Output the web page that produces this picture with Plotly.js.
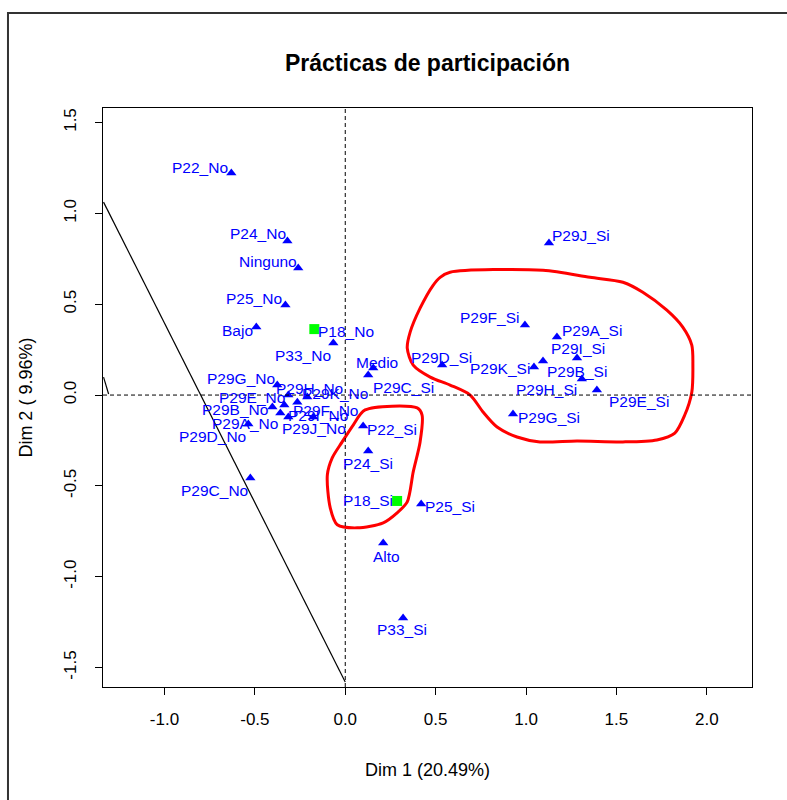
<!DOCTYPE html>
<html>
<head>
<meta charset="utf-8">
<script src="https://cdn.plot.ly/plotly-3.0.1.min.js"></script>
<style>html,body{margin:0;padding:0;background:#fff;}#chart{width:787px;height:800px;}</style>
</head>
<body>
<div id="chart"></div>
<script>
// Active categories (blue triangles)
const labels = ["P22_No","P24_No","Ninguno","P25_No","Bajo","P33_No","Medio","P29C_Si","P29D_Si","P29F_Si",
  "P29A_Si","P29I_Si","P29K_Si","P29H_Si","P29B_Si","P29E_Si","P29G_Si","P29J_Si",
  "P29G_No","P29H_No","P29K_No","P29E_No","P29B_No","P29F_No","P29I_No","P29J_No","P29A_No","P29D_No","P29C_No",
  "P22_Si","P24_Si","P25_Si","Alto","P33_Si"];
const dim1 = [-0.630,-0.320,-0.260,-0.331,-0.492,-0.066,0.155,0.127,0.536,0.994,
  1.171,1.282,1.044,1.309,1.094,1.392,0.928,1.127,
  -0.376,-0.315,-0.210,-0.265,-0.403,-0.337,-0.177,-0.315,-0.359,-0.536,-0.525,
  0.099,0.127,0.420,0.210,0.320];
const dim2 = [1.222,0.848,0.699,0.495,0.374,0.286,0.149,0.110,0.165,0.385,
  0.319,0.204,0.154,0.088,0.187,0.028,-0.105,0.837,
  0.055,0.000,-0.011,-0.039,-0.066,-0.055,-0.121,-0.121,-0.099,-0.160,-0.457,
  -0.171,-0.308,-0.600,-0.815,-1.227];

// Supplementary categories (green squares)
const suppLabels = ["P18_No","P18_Si"];
const suppDim1 = [-0.171,0.287];
const suppDim2 = [0.363,-0.583];

// Label placement offsets in pixels (dx right, dy down)
const labelOffsets = [[-31,-6],[-29,-7],[-30,-7],[-31,-7],[-19,3],[-30,12],[4,-5],[35,12],[-1,-8],[-35,-8],
  [35,-7],[1,-9],[-34,1],[-35,10],[34,10],[42,12],[36,3],[32,-7],
  [-36,-7],[21,-7],[28,-4],[-45,-5],[-37,2],[41,5],[5,-2],[26,11],[-35,10],[-36,12],[-36,12],
  [29,3],[0,12],[29,2],[3,13],[-1,12]];
const suppOffsets = [[32,2],[-29,0]];

// Hand-drawn red outlines (vertices)
const groupA_x = [0.580,1.094,1.354,1.536,1.646,1.779,1.867,1.917,1.923,1.917,1.878,1.823,1.724,1.536,1.282,1.077,0.950,0.840,0.762,0.691,0.580,0.470,0.376,0.343,0.359,0.414,0.486,0.525,0.580];
const groupA_y = [0.676,0.687,0.648,0.621,0.566,0.467,0.374,0.275,0.165,0.016,-0.110,-0.209,-0.247,-0.258,-0.253,-0.258,-0.231,-0.176,-0.093,0.000,0.055,0.099,0.165,0.258,0.346,0.478,0.604,0.648,0.676];
const groupB_x = [0.110,0.398,0.425,0.414,0.376,0.343,0.287,0.210,0.066,-0.044,-0.083,-0.099,-0.072,-0.017,0.044,0.110];
const groupB_y = [-0.082,-0.071,-0.110,-0.258,-0.423,-0.588,-0.648,-0.703,-0.731,-0.714,-0.621,-0.440,-0.346,-0.258,-0.165,-0.082];

// Straight black lines (endpoints)
const lineMain = {x0:-1.337, y0:1.062, x1:0.0, y1:-1.580};
const lineShort = {x0:-1.337, y0:0.099, x1:-1.309, y1:0.006};

const FONT = '"Liberation Sans", Arial, Helvetica, sans-serif';
const BLUE = '#0000FF';
const LABEL_SIZE = 15.5;
const AXIS_SIZE = 17;
const AXIS_TITLE_SIZE = 18;

const traces = [
  {x: groupA_x, y: groupA_y, mode:'lines', line:{color:'#FF0000', width:3, shape:'spline', smoothing:0.8}, hoverinfo:'skip'},
  {x: groupB_x, y: groupB_y, mode:'lines', line:{color:'#FF0000', width:3, shape:'spline', smoothing:0.8}, hoverinfo:'skip'},
  {x: dim1, y: dim2, text: labels, mode:'markers', marker:{symbol:'triangle-up', size:9, color:BLUE}},
  {x: suppDim1, y: suppDim2, text: suppLabels, mode:'markers', marker:{symbol:'square', size:10, color:'#00FF00'}}
];

const annotations = [];
labels.forEach((t,i)=>{
  annotations.push({x:dim1[i], y:dim2[i], text:t, showarrow:false, xshift:labelOffsets[i][0], yshift:-labelOffsets[i][1],
    font:{family:FONT, size:LABEL_SIZE, color:BLUE}});
});
suppLabels.forEach((t,i)=>{
  annotations.push({x:suppDim1[i], y:suppDim2[i], text:t, showarrow:false, xshift:suppOffsets[i][0], yshift:-suppOffsets[i][1],
    font:{family:FONT, size:LABEL_SIZE, color:BLUE}});
});
annotations.push({xref:'paper', yref:'paper', x:0.5, y:-0.1434, text:'Dim 1 (20.49%)', showarrow:false,
  font:{family:FONT, size:AXIS_TITLE_SIZE, color:'#000'}, yanchor:'middle'});
annotations.push({xref:'paper', yref:'paper', x:-0.1200, y:0.5, text:'Dim 2 ( 9.96%)', showarrow:false, textangle:-90,
  font:{family:FONT, size:AXIS_TITLE_SIZE, color:'#000'}, xanchor:'center', yanchor:'middle'});

const shapes = [
  {type:'line', xref:'x', yref:'paper', x0:0, x1:0, y0:0, y1:1, line:{color:'#000', width:1, dash:'4px,3px'}},
  {type:'line', xref:'paper', yref:'y', x0:0, x1:1, y0:0, y1:0, line:{color:'#000', width:1, dash:'4px,3px'}},
  {type:'line', xref:'x', yref:'y', x0:lineMain.x0, y0:lineMain.y0, x1:lineMain.x1, y1:lineMain.y1, line:{color:'#000', width:1.2}},
  {type:'line', xref:'x', yref:'y', x0:lineShort.x0, y0:lineShort.y0, x1:lineShort.x1, y1:lineShort.y1, line:{color:'#000', width:1.2}},
  {type:'rect', xref:'paper', yref:'paper', x0:-0.1464, x1:1.2, y0:-0.4, y1:1.164, line:{color:'#333', width:2}, layer:'below'}
];

const ticks = [-1,-0.5,0,0.5,1,1.5,2];
const yticks = [-1.5,-1,-0.5,0,0.5,1,1.5];
const fmt = v => v.toFixed(1);

const layout = {
  width:787, height:800,
  margin:{l:103, r:35, t:108, b:113},
  paper_bgcolor:'#fff', plot_bgcolor:'#fff',
  showlegend:false,
  font:{family:FONT, color:'#000'},
  title:{text:'<b>Prácticas de participación</b>', font:{family:FONT, size:23, color:'#000'},
    xref:'paper', x:0.5, xanchor:'center', yref:'container', y:1-63/800, yanchor:'middle'},
  xaxis:{range:[-1.34,2.25], tickvals:ticks, ticktext:ticks.map(fmt), ticks:'outside', ticklen:7, tickcolor:'#000',
    showline:true, mirror:true, linecolor:'#000', linewidth:1, zeroline:false, showgrid:false,
    tickfont:{family:FONT, size:AXIS_SIZE, color:'#000'}, ticklabelstandoff:10},
  yaxis:{range:[-1.607,1.58], tickvals:yticks, ticktext:yticks.map(fmt), ticks:'outside', ticklen:7, tickcolor:'#000',
    showline:true, mirror:true, linecolor:'#000', linewidth:1, zeroline:false, showgrid:false, tickangle:-90,
    tickfont:{family:FONT, size:AXIS_SIZE, color:'#000'}, ticklabelstandoff:12},
  annotations: annotations,
  shapes: shapes
};

Plotly.newPlot('chart', traces, layout, {displayModeBar:false, staticPlot:true});
</script>
</body>
</html>
